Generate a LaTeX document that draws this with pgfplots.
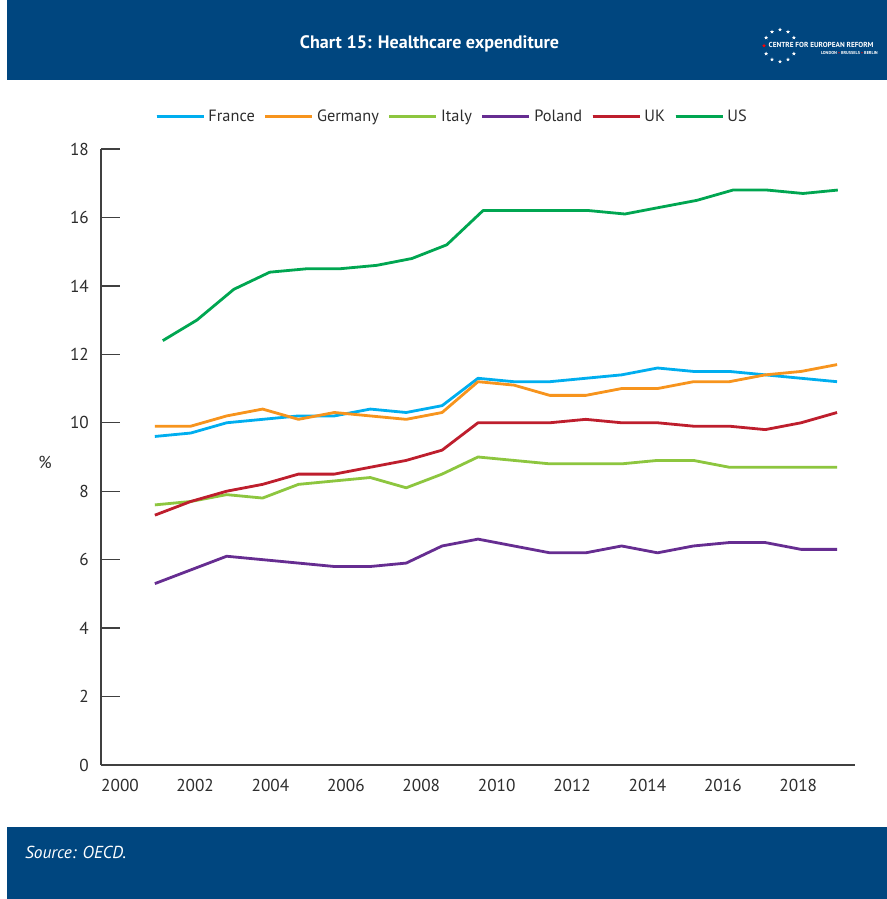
\documentclass[border=0pt]{standalone}
\usepackage{fontspec}
\setmainfont{PT Sans}
\usepackage{pgfplots}
\pgfplotsset{compat=1.18}
\usetikzlibrary{shapes.geometric}

\definecolor{cerblue}{RGB}{0,70,127}
\definecolor{axisgray}{RGB}{64,64,64}
\definecolor{textgray}{RGB}{45,45,45}
\definecolor{cFrance}{RGB}{0,174,239}
\definecolor{cGermany}{RGB}{247,148,29}
\definecolor{cItaly}{RGB}{141,198,63}
\definecolor{cPoland}{RGB}{102,45,145}
\definecolor{cUK}{RGB}{190,30,45}
\definecolor{cUS}{RGB}{0,166,81}

\newcommand{\ticksize}{\fontsize{17.3}{20}\selectfont}
\newcommand{\legsize}{\fontsize{16.4}{19}\selectfont}

\begin{document}
\begin{tikzpicture}[x=1bp,y=1bp]
% page and bands
\fill[white] (0,0) rectangle (887,899);
\fill[cerblue] (7,819) rectangle (887,899);
\fill[cerblue] (7,0) rectangle (887,72.3);
\node[anchor=base, text=white, inner sep=0pt, font=\fontsize{18.1}{22}\selectfont\bfseries]
  at (429.5,850) {Chart 15: Healthcare expenditure};
\node[anchor=base west, text=white, inner sep=0pt, font=\fontsize{17.4}{21}\selectfont\itshape]
  at (25,40) {Source: OECD.};

% logo: ring of stars and name
\foreach \a in {30,60,...,330}{
  \ifnum\a=180\relax\else
  \node[star, star points=5, star point ratio=2.4, fill=white, inner sep=0pt, minimum size=4.2bp]
    at ({780+16*cos(\a)},{853.3+16*sin(\a)}) {};
  \fi}
\node[star, star points=5, star point ratio=2.4, fill=red, inner sep=0pt, minimum size=4.2bp] at (764,853.3) {};
\node[anchor=west, text=white, inner sep=0pt, font=\fontsize{7.3}{8}\selectfont\bfseries]
  at (768.5,853.6) {CENTRE FOR EUROPEAN REFORM};
\node[anchor=east, text=white, inner sep=0pt, font=\fontsize{4.3}{5}\selectfont\bfseries]
  at (878,846.3) {LONDON \textcolor{red}{\textbullet} BRUSSELS \textcolor{red}{\textbullet} BERLIN};

\node[text=textgray, font=\ticksize, inner sep=0pt] at (45,437) {\%};

\begin{axis}[
  at={(101bp,134bp)}, anchor=south west,
  scale only axis, width=754bp, height=616bp,
  xmin=-1.5, xmax=19.5, ymin=0, ymax=18,
  axis lines*=left,
  axis line style={line width=1.3bp, draw=axisgray},
  ytick={0,2,...,18},
  xtick={-0.97,1.12,3.22,5.32,7.42,9.52,11.62,13.72,15.82,17.92},
  xticklabels={2000,2002,2004,2006,2008,2010,2012,2014,2016,2018},
  tick align=inside,
  major tick length=19bp,
  ytick style={line width=1.3bp, draw=axisgray},
  xtick style={draw=none},
  tick label style={font=\ticksize, text=textgray, inner sep=0pt},
  yticklabel style={xshift=-12bp},
  xticklabel style={yshift=-14bp},
  /pgf/number format/assume math mode=true,
  clip=false,
  every axis plot/.append style={line width=2.8bp, line join=round, mark=none},
  legend columns=6,
  legend style={at={(0.0716,1.0528)}, anchor=west, draw=none, fill=none,
    inner sep=0pt, font=\legsize, text=textgray,
    /tikz/every even column/.append style={column sep=5.5bp},
    nodes={inner sep=3.5bp}},
  legend image code/.code={\draw[#1, line width=2.8bp] (0,0) -- (43bp,0);
    \path (0,0) -- (47bp,0);},
]
% France
\addplot[cFrance] coordinates {(0,9.6)(1,9.7)(2,10.0)(3,10.1)(4,10.2)(5,10.2)(6,10.4)(7,10.3)(8,10.5)(9,11.3)
  (10,11.2)(11,11.2)(12,11.3)(13,11.4)(14,11.6)(15,11.5)(16,11.5)(17,11.4)(18,11.3)(19,11.2)};
\addlegendentry{France}
% Germany
\addplot[cGermany] coordinates {(0,9.9)(1,9.9)(2,10.2)(3,10.4)(4,10.1)(5,10.3)(6,10.2)(7,10.1)(8,10.3)(9,11.2)
  (10,11.1)(11,10.8)(12,10.8)(13,11.0)(14,11.0)(15,11.2)(16,11.2)(17,11.4)(18,11.5)(19,11.7)};
\addlegendentry{Germany}
% Italy
\addplot[cItaly] coordinates {(0,7.6)(1,7.7)(2,7.9)(3,7.8)(4,8.2)(5,8.3)(6,8.4)(7,8.1)(8,8.5)(9,9.0)
  (10,8.9)(11,8.8)(12,8.8)(13,8.8)(14,8.9)(15,8.9)(16,8.7)(17,8.7)(18,8.7)(19,8.7)};
\addlegendentry{Italy}
% Poland
\addplot[cPoland] coordinates {(0,5.3)(1,5.7)(2,6.1)(3,6.0)(4,5.9)(5,5.8)(6,5.8)(7,5.9)(8,6.4)(9,6.6)
  (10,6.4)(11,6.2)(12,6.2)(13,6.4)(14,6.2)(15,6.4)(16,6.5)(17,6.5)(18,6.3)(19,6.3)};
\addlegendentry{Poland}
% UK
\addplot[cUK] coordinates {(0,7.3)(1,7.7)(2,8.0)(3,8.2)(4,8.5)(5,8.5)(6,8.7)(7,8.9)(8,9.2)(9,10.0)
  (10,10.0)(11,10.0)(12,10.1)(13,10.0)(14,10.0)(15,9.9)(16,9.9)(17,9.8)(18,10.0)(19,10.3)};
\addlegendentry{UK}
% US
\addplot[cUS] coordinates {(0.22,12.4)(1.17,13.0)(2.2,13.9)(3.2,14.4)(4.23,14.5)(5.15,14.5)(6.18,14.6)(7.16,14.8)(8.13,15.2)(9.14,16.2)
  (10.14,16.2)(11.11,16.2)(12.09,16.2)(13.09,16.1)(14.09,16.3)(15.1,16.5)(16.1,16.8)(17.05,16.8)(18.05,16.7)(19.02,16.8)};
\addlegendentry{US}
\end{axis}
\end{tikzpicture}
\end{document}
